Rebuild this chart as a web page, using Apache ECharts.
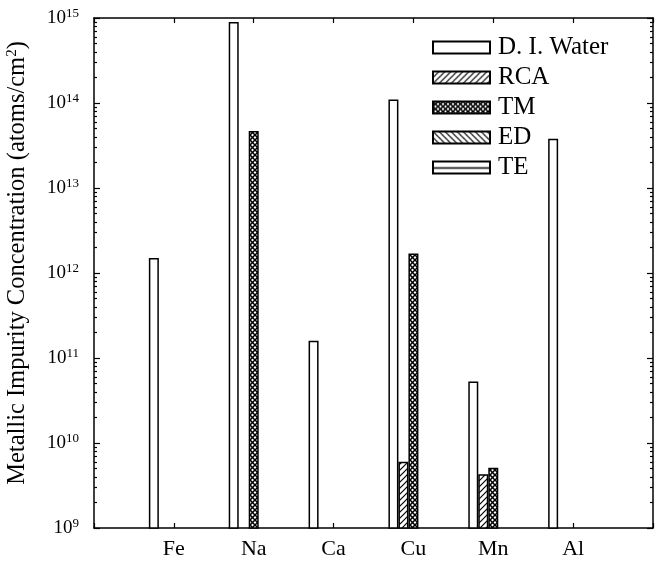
<!DOCTYPE html>
<html><head><meta charset="utf-8">
<script src="https://cdn.jsdelivr.net/npm/echarts@6/dist/echarts.min.js"></script>
<style>html,body{margin:0;padding:0;background:#fff}#c{width:657px;height:567px}</style>
</head><body><div id="c"></div>
<script>
// ---- data ----
const categories = ['Fe', 'Na', 'Ca', 'Cu', 'Mn', 'Al'];
const seriesNames = ['D. I. Water', 'RCA', 'TM', 'ED', 'TE'];
const diWater = [1.5e12, 9.0e14, 1.6e11, 1.1e14, 5.3e10, 3.8e13];
const rca     = [null, null, null, 6.0e9, 4.3e9, null];
const tm      = [null, 4.7e13, null, 1.7e12, 5.1e9, null];
const ed      = [null, null, null, null, null, null];
const te      = [null, null, null, null, null, null];
const yDecades = [1e9, 1e10, 1e11, 1e12, 1e13, 1e14, 1e15];

// ---- helpers ----
const FONT = '"Liberation Serif", "DejaVu Serif", serif';
const Y_MIN = 1e9, Y_MAX = 1.0002e15;
const minorVals = [];
for (let i = 0; i < yDecades.length - 1; i++) {
  for (let k = 2; k <= 9; k++) minorVals.push(k * yDecades[i]);
}
function pad(arr) { return [null].concat(arr, [null]); }
const axisCats = [''].concat(categories, ['']);

function makePattern(kind) {
  const c = document.createElement('canvas');
  let w = 6, h = 6;
  if (kind === 'te') { w = 8; h = 12; }
  if (kind === 'tm') { w = 5; h = 5; }
  c.width = w; c.height = h;
  const g = c.getContext('2d');
  g.fillStyle = '#fff'; g.fillRect(0, 0, w, h);
  g.strokeStyle = '#000';
  if (kind === 'rca' || kind === 'tm') {
    g.lineWidth = kind === 'tm' ? 1.5 : 1.2;
    g.beginPath();
    g.moveTo(-1, h + 1); g.lineTo(w + 1, -1);
    g.moveTo(-1, 1); g.lineTo(1, -1);
    g.moveTo(w - 1, h + 1); g.lineTo(w + 1, h - 1);
    g.stroke();
  }
  if (kind === 'ed' || kind === 'tm') {
    g.lineWidth = kind === 'tm' ? 1.5 : 1.2;
    g.beginPath();
    g.moveTo(-1, -1); g.lineTo(w + 1, h + 1);
    g.moveTo(w - 1, -1); g.lineTo(w + 1, 1);
    g.moveTo(-1, h - 1); g.lineTo(1, h + 1);
    g.stroke();
  }
  if (kind === 'te') {
    g.lineWidth = 1.5;
    g.beginPath(); g.moveTo(0, 6.5); g.lineTo(w, 6.5); g.stroke();
  }
  return { image: c, repeat: 'repeat' };
}
const fills = ['#ffffff', makePattern('rca'), makePattern('tm'), makePattern('ed'), makePattern('te')];
const seriesData = [diWater, rca, tm, ed, te];

const chart = echarts.init(document.getElementById('c'), null, { renderer: 'canvas' });

function yAxisBase(pos, major) {
  return {
    type: 'log', logBase: 10, min: Y_MIN, max: Y_MAX, position: pos,
    axisLine: { show: major, lineStyle: { color: '#000', width: 1.5 } },
    splitLine: { show: false },
    axisTick: {
      show: true, inside: true, length: major ? 6 : 3,
      customValues: major ? yDecades : minorVals,
      lineStyle: { color: '#000', width: 1.2 }
    },
    axisLabel: { show: false }
  };
}

const yLeft = yAxisBase('left', true);
yLeft.axisLabel = {
  show: true, customValues: yDecades, margin: 15, color: '#000',
  showMinLabel: true, showMaxLabel: true, hideOverlap: false,
  fontFamily: FONT, fontSize: 19,
  formatter: v => '10{s|' + Math.round(Math.log10(v)) + '}',
  rich: { s: { fontFamily: FONT, fontSize: 13, padding: [0, 0, 9, 0], color: '#000' } }
};
yLeft.name = 'Metallic Impurity Concentration (atoms/cm{s|2})';
yLeft.nameLocation = 'middle';
yLeft.nameRotate = 90;
yLeft.nameGap = 63;
yLeft.nameTextStyle = {
  fontFamily: FONT, fontSize: 24.5, color: '#000', padding: [0, 0, 0, 20],
  rich: { s: { fontFamily: FONT, fontSize: 15, padding: [0, 0, 11, 0], color: '#000' } }
};

const option = {
  animation: false,
  backgroundColor: '#fff',
  grid: { left: 94, right: 4, top: 18, bottom: 39, outerBoundsMode: 'none', containLabel: false },
  legend: {
    orient: 'vertical', left: 432, top: 35, padding: 0,
    itemWidth: 57, itemHeight: 12, itemGap: 5, icon: 'rect',
    data: seriesNames,
    textStyle: { fontFamily: FONT, fontSize: 25, color: '#000', padding: [0, 0, 0, 3] }
  },
  xAxis: [
    {
      type: 'category', data: axisCats, boundaryGap: false, position: 'bottom',
      axisLine: { lineStyle: { color: '#000', width: 1.5 } },
      axisTick: { inside: true, length: 5, interval: 0, lineStyle: { color: '#000', width: 1.2 } },
      axisLabel: { interval: 0, margin: 10, color: '#000', fontFamily: FONT, fontSize: 22 },
      splitLine: { show: false }
    },
    {
      type: 'category', data: axisCats, boundaryGap: false, position: 'top',
      axisLine: { lineStyle: { color: '#000', width: 1.5 } },
      axisTick: { inside: true, length: 5, interval: 0, lineStyle: { color: '#000', width: 1.2 } },
      axisLabel: { show: false },
      splitLine: { show: false }
    }
  ],
  yAxis: [yLeft, yAxisBase('left', false), yAxisBase('right', true), yAxisBase('right', false)],
  series: seriesNames.map((name, i) => ({
    name, type: 'bar', xAxisIndex: 0, yAxisIndex: 0,
    data: pad(seriesData[i]),
    barWidth: 10, barGap: '0%',
    itemStyle: { color: fills[i], borderColor: '#000', borderWidth: 1.5 }
  }))
};
chart.setOption(option);
</script>
</body></html>
